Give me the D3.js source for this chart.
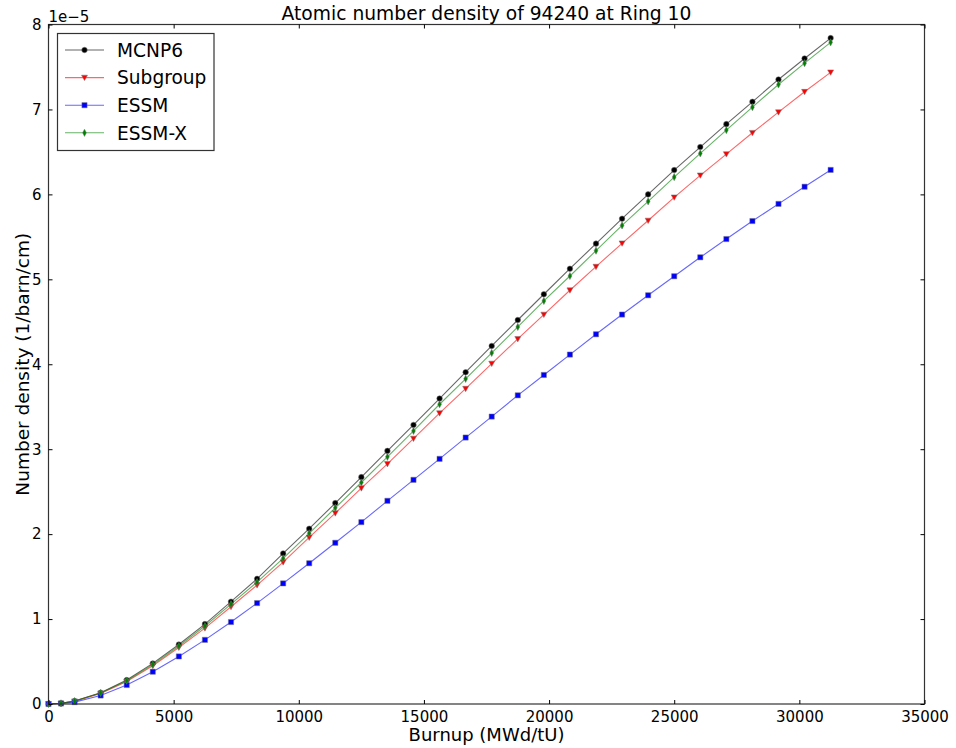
<!DOCTYPE html>
<html><head><meta charset="utf-8">
<script src="https://cdn.jsdelivr.net/npm/d3@7"></script>
<style>
html,body{margin:0;padding:0;background:#fff;}
svg text{font-family:"DejaVu Sans",sans-serif;fill:#000;}
</style></head>
<body>
<svg id="chart" width="956" height="748"></svg>
<script>
// ---- data (values in units of 1e-5 1/barn/cm) ----
const burnup = [0, 500, 1041.67, 2083.33, 3125, 4166.67, 5208.33, 6250, 7291.67, 8333.33, 9375,
  10416.67, 11458.33, 12500, 13541.67, 14583.33, 15625, 16666.67, 17708.33, 18750, 19791.67,
  20833.33, 21875, 22916.67, 23958.33, 25000, 26041.67, 27083.33, 28125, 29166.67, 30208.33, 31250];
const mcnp6 = [0, 0.008, 0.035, 0.133, 0.282, 0.478, 0.700, 0.941, 1.205, 1.474, 1.773,
  2.064, 2.365, 2.671, 2.980, 3.286, 3.596, 3.906, 4.216, 4.521, 4.824,
  5.125, 5.420, 5.714, 6.000, 6.286, 6.557, 6.827, 7.090, 7.353, 7.600, 7.840];
const subgroup = [0, 0.007, 0.032, 0.125, 0.265, 0.450, 0.665, 0.893, 1.145, 1.400, 1.670,
  1.961, 2.247, 2.541, 2.827, 3.125, 3.424, 3.712, 4.008, 4.298, 4.585,
  4.871, 5.149, 5.424, 5.692, 5.965, 6.224, 6.474, 6.725, 6.968, 7.208, 7.437];
const essm = [0, 0.006, 0.022, 0.100, 0.224, 0.380, 0.560, 0.755, 0.965, 1.188, 1.420,
  1.657, 1.898, 2.141, 2.392, 2.639, 2.886, 3.137, 3.384, 3.634, 3.874,
  4.114, 4.353, 4.585, 4.812, 5.036, 5.259, 5.474, 5.686, 5.888, 6.090, 6.288];
const essmX = [0, 0.008, 0.034, 0.130, 0.275, 0.466, 0.683, 0.918, 1.175, 1.435, 1.714,
  2.010, 2.310, 2.608, 2.910, 3.215, 3.529, 3.828, 4.133, 4.439, 4.745,
  5.039, 5.337, 5.634, 5.918, 6.204, 6.482, 6.757, 7.027, 7.294, 7.545, 7.790];
const seriesNames = ["MCNP6", "Subgroup", "ESSM", "ESSM-X"];
const xTicks = [0, 5000, 10000, 15000, 20000, 25000, 30000, 35000];
const yTicks = [0, 1, 2, 3, 4, 5, 6, 7, 8];
const titleText = "Atomic number density of 94240 at Ring 10";
const xLabel = "Burnup (MWd/tU)";
const yLabel = "Number density (1/barn/cm)";
const offsetText = "1e\u22125";

// ---- layout ----
const L = 48.5, R = 924.5, T = 24.5, B = 704;
const svg = d3.select("#chart");
const x = d3.scaleLinear().domain([0, 35000]).range([L, R]);
const y = d3.scaleLinear().domain([0, 8]).range([B, T]);

const styles = [
  {color: "#000000", marker: "circle"},
  {color: "#ff0000", marker: "tri"},
  {color: "#0000ff", marker: "square"},
  {color: "#008000", marker: "diamond"}
];
const data = [mcnp6, subgroup, essm, essmX];

function markerPath(type) {
  if (type === "circle") return d3.symbol(d3.symbolCircle, 24)();
  if (type === "square") return "M-2.6,-2.6H2.6V2.6H-2.6Z";
  if (type === "tri") return "M-3,-2.4L3,-2.4L0,3Z";
  if (type === "diamond") return "M0,-3.6L1.9,0L0,3.6L-1.9,0Z";
}

// ---- series ----
const plot = svg.append("g");
data.forEach((vals, i) => {
  const st = styles[i];
  const pts = burnup.map((b, j) => [b, vals[j]]);
  plot.append("path")
    .attr("d", d3.line().x(d => x(d[0])).y(d => y(d[1]))(pts))
    .attr("fill", "none").attr("stroke", st.color).attr("stroke-opacity", 0.6).attr("stroke-width", 1.1);
  plot.selectAll(null).data(pts).enter().append("path")
    .attr("d", markerPath(st.marker))
    .attr("transform", d => `translate(${x(d[0])},${y(d[1])})`)
    .attr("fill", st.color).attr("stroke", "#777").attr("stroke-width", 0.5);
});

// ---- frame & ticks ----
svg.append("rect").attr("x", L).attr("y", T).attr("width", R - L).attr("height", B - T)
  .attr("fill", "none").attr("stroke", "#333").attr("stroke-width", 1.2);

const xb = svg.append("g").attr("transform", `translate(0,${B})`)
  .call(d3.axisBottom(x).tickValues(xTicks).tickSize(-4).tickPadding(7).tickFormat(d3.format("d")));
const xt = svg.append("g").attr("transform", `translate(0,${T})`)
  .call(d3.axisTop(x).tickValues(xTicks).tickSize(-4).tickFormat(""));
const yl = svg.append("g").attr("transform", `translate(${L},0)`)
  .call(d3.axisLeft(y).tickValues(yTicks).tickSize(-4).tickPadding(7).tickFormat(d3.format("d")));
const yr = svg.append("g").attr("transform", `translate(${R},0)`)
  .call(d3.axisRight(y).tickValues(yTicks).tickSize(-4).tickFormat(""));
[xb, xt, yl, yr].forEach(g => {
  g.select(".domain").remove();
  g.selectAll(".tick line").attr("stroke", "#000");
  g.selectAll("text").attr("font-family", "DejaVu Sans").attr("font-size", 15).attr("fill", "#000");
});

// ---- texts ----
svg.append("text").attr("x", (L + R) / 2).attr("y", 20).attr("text-anchor", "middle")
  .attr("font-size", 18.7).text(titleText);
svg.append("text").attr("x", L).attr("y", 22).attr("font-size", 15).text(offsetText);
svg.append("text").attr("x", (L + R) / 2).attr("y", 741).attr("text-anchor", "middle")
  .attr("font-size", 18).text(xLabel);
svg.append("text").attr("transform", `translate(29,${(T + B) / 2}) rotate(-90)`).attr("text-anchor", "middle")
  .attr("font-size", 18.5).text(yLabel);

// ---- legend ----
const lg = svg.append("g");
lg.append("rect").attr("x", 57.5).attr("y", 33.5).attr("width", 156.5).attr("height", 117)
  .attr("fill", "#fff").attr("stroke", "#333").attr("stroke-width", 1.2);
seriesNames.forEach((name, i) => {
  const yy = 50 + i * 27.6;
  lg.append("line").attr("x1", 65).attr("x2", 104).attr("y1", yy).attr("y2", yy)
    .attr("stroke", styles[i].color).attr("stroke-opacity", 0.6).attr("stroke-width", 1.1);
  lg.append("path").attr("d", markerPath(styles[i].marker))
    .attr("transform", `translate(84.5,${yy})`)
    .attr("fill", styles[i].color).attr("stroke", "#777").attr("stroke-width", 0.5);
  lg.append("text").attr("x", 117).attr("y", yy + 6.8).attr("font-size", 18.6).text(name);
});
</script>
</body></html>
